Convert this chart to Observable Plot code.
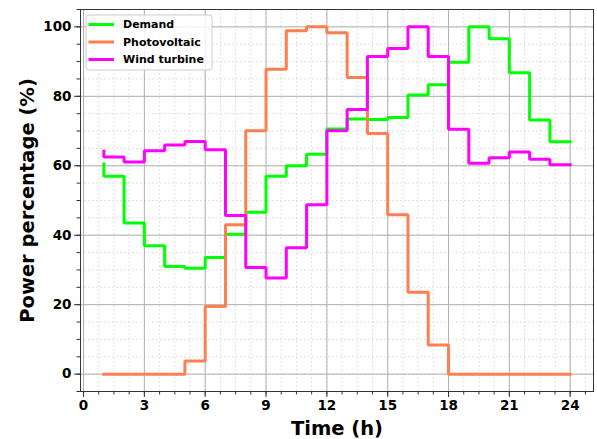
<!DOCTYPE html>
<html><head><meta charset="utf-8">
<script src="https://cdn.jsdelivr.net/npm/d3@7"></script>
<script src="https://cdn.jsdelivr.net/npm/@observablehq/plot@0.6"></script>
<style>body{margin:0;background:#fff}</style>
</head><body><div id="chart"></div>
<script>
const hours = [1,2,3,4,5,6,7,8,9,10,11,12,13,14,15,16,17,18,19,20,21,22,23,24];
const demand = [60.5,57,43.5,37,31,30.5,33.6,40.3,46.6,57,60,63.3,70.6,73.5,73.3,73.9,80.4,83.3,89.8,100,96.6,86.8,73.2,66.9];
const photovoltaic = [0,0,0,0,0,3.8,19.5,43,70.1,87.8,98.9,100,98.3,85.4,69.3,45.9,23.6,8.4,0,0,0,0,0,0];
const windTurbine = [64.2,62.5,61.1,64.3,66,67,64.6,45.7,30.7,27.7,36.4,48.8,70.1,76.2,91.5,93.8,100,91.5,70.5,60.7,62.3,64,61.9,60.3];
const seriesNames = ["Demand","Photovoltaic","Wind turbine"];
const seriesColors = ["#00ff00","#ff7f50","#ff00ff"];
const xMajorTicks = [0,3,6,9,12,15,18,21,24];
const yMajorTicks = [0,20,40,60,80,100];
const xLabel = "Time (h)";
const yLabel = "Power percentage (%)";

const seriesValues = [demand, photovoltaic, windTurbine];
const rows = seriesNames.flatMap((s, k) => hours.map((h, i) => ({h, v: seriesValues[k][i], s})));
const xMinorTicks = d3.range(0, 25.01, 0.75);
const yMinorTicks = d3.range(-5, 105.01, 5);

const plot = Plot.plot({
  width: 597, height: 439,
  marginLeft: 80, marginRight: 4, marginTop: 9, marginBottom: 48,
  style: {fontFamily: "DejaVu Sans", background: "#fff"},
  x: {domain: [-0.15, 25.15], label: null},
  y: {domain: [-5, 105], label: null},
  color: {domain: seriesNames, range: seriesColors},
  marks: [
    Plot.gridX(xMinorTicks, {stroke: "#d9d9d9", strokeOpacity: 1, strokeDasharray: "2,2", strokeWidth: 0.8}),
    Plot.gridY(yMinorTicks, {stroke: "#d9d9d9", strokeOpacity: 1, strokeDasharray: "2,2", strokeWidth: 0.8}),
    Plot.gridX(xMajorTicks, {stroke: "#b0b0b0", strokeOpacity: 1, strokeWidth: 1}),
    Plot.gridY(yMajorTicks, {stroke: "#b0b0b0", strokeOpacity: 1, strokeWidth: 1}),
    Plot.line(rows, {x: "h", y: "v", z: "s", stroke: "s", curve: "step-before", strokeWidth: 3, strokeLinejoin: "miter", strokeLinecap: "square"}),
    Plot.frame({stroke: "#333"}),
    Plot.axisX(xMinorTicks, {tickSize: 3.5, tickFormat: () => "", stroke: "#333", label: null}),
    Plot.axisY(yMinorTicks, {tickSize: 3.5, tickFormat: () => "", stroke: "#333", label: null}),
    Plot.axisX(xMajorTicks, {tickSize: 6, tickPadding: 3, fontSize: 13.5, fontWeight: "bold", stroke: "#333", fill: "black", tickFormat: d3.format("d"), label: null}),
    Plot.axisY(yMajorTicks, {tickSize: 6, tickPadding: 3, fontSize: 13.5, fontWeight: "bold", stroke: "#333", fill: "black", tickFormat: d3.format("d"), label: null}),
    Plot.text([xLabel], {text: d => d, frameAnchor: "bottom", dy: 37, fontSize: 19.5, fontWeight: "bold", fill: "black", lineAnchor: "middle", textAnchor: "middle"}),
    Plot.text([yLabel], {text: d => d, frameAnchor: "left", dx: -53, rotate: -90, fontSize: 19.5, fontWeight: "bold", fill: "black", lineAnchor: "middle", textAnchor: "middle"})
  ]
});

// legend (upper left, matplotlib style)
const svg = d3.select(plot);
const lg = svg.append("g").attr("transform", "translate(86,15)");
lg.append("rect").attr("width", 126).attr("height", 55).attr("rx", 3)
  .attr("fill", "white").attr("fill-opacity", 0.8).attr("stroke", "#ccc");
seriesNames.forEach((name, i) => {
  const yy = 9.5 + i * 17.5;
  lg.append("line").attr("x1", 2.5).attr("x2", 28).attr("y1", yy).attr("y2", yy)
    .attr("stroke", seriesColors[i]).attr("stroke-width", 3);
  lg.append("text").attr("x", 37).attr("y", yy).attr("dy", "0.35em")
    .attr("text-anchor", "start")
    .attr("font-size", 11).attr("font-weight", "bold").attr("font-family", "DejaVu Sans")
    .attr("fill", "black").text(name);
});

document.getElementById("chart").appendChild(plot);
</script>
</body></html>
